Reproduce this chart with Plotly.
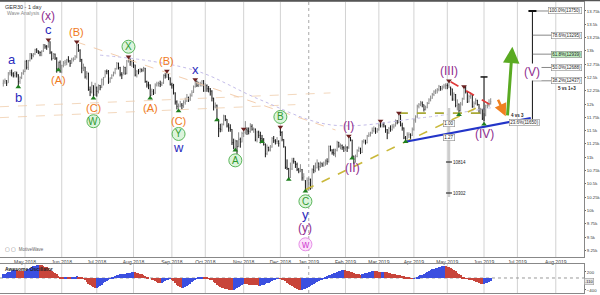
import pandas as pd
import plotly.graph_objects as go

# ---------------- trading calendar (GER30 daily bars) ----------------
holidays = ["2018-05-01", "2018-12-24", "2018-12-25", "2018-12-26", "2018-12-31",
            "2019-01-01", "2019-04-19", "2019-04-22", "2019-05-01"]
calendar = [d for d in pd.bdate_range("2018-04-12", "2019-09-30")
            if d.strftime("%Y-%m-%d") not in holidays]

month_ticks = ["2018-05", "2018-06", "2018-07", "2018-08", "2018-09", "2018-10", "2018-11",
               "2018-12", "2019-01", "2019-02", "2019-03", "2019-04", "2019-05", "2019-06",
               "2019-07", "2019-08"]

# ---------------- daily OHLC ----------------
opens = [
    12390, 12420, 12440, 12400, 12585, 12590, 12567, 12540, 12572, 12550, 12422, 12500, 12580,
    12612, 12802, 12690, 12820, 12948, 12912, 12943, 13023, 13001, 12978, 12970, 12996, 13115, 13078, 13077, 13170, 12976, 12855, 12939, 12863, 12666, 12783,
    12605, 12724, 12770, 12787, 12830, 12811, 12766, 12842, 12842, 12890, 13107, 13010, 12834, 12677, 12695, 12512, 12580, 12270, 12228, 12348, 12177,
    12306, 12238, 12349, 12317, 12465, 12496, 12610, 12609, 12417, 12492, 12541, 12595, 12662, 12765, 12686, 12561, 12548, 12689, 12579, 12809, 12860, 12798,
    12805, 12737, 12546, 12616, 12613, 12648, 12634, 12676, 12424, 12358, 12358, 12163, 12237, 12210, 12358, 12384, 12385, 12365, 12394, 12538, 12527, 12562, 12494,
    12364, 12346, 12210, 12040, 11956, 11960, 11986, 11970, 12032, 12055, 12124, 12096, 12157, 12219, 12326, 12431, 12350, 12374, 12385, 12435,
    12247, 12346, 12287, 12287, 12244, 12111, 11947, 11977, 11712, 11539, 11523, 11614, 11777, 11715, 11589, 11553, 11524, 11274, 11191, 11307, 11201, 11335, 11287,
    11447, 11468, 11519, 11495, 11484, 11579, 11527, 11529, 11325, 11472, 11412, 11353, 11341, 11244, 11066, 11183, 11138, 11192, 11354, 11310, 11298, 11299,
    11480, 11465, 11335, 11200, 10811, 10788, 10622, 10780, 10931, 10924, 10866, 10772, 10740, 10766, 10611, 10560, 10382,
    10559, 10580, 10416, 10767, 10747, 10804, 10893, 10822, 10888, 10856, 10892, 10931, 10919, 11205, 11136, 11090, 11071, 11130, 11282, 11210, 11218, 11181,
    11173, 11180, 11177, 11367, 11324, 11022, 10906, 11014, 11126, 11167, 11089, 11299, 11309, 11277, 11401, 11423, 11457, 11505, 11540, 11487,
    11515, 11602, 11593, 11620, 11588, 11518, 11458, 11543, 11524, 11572, 11587, 11686, 11657, 11788, 11603, 11550, 11364, 11346, 11419, 11428, 11409,
    11526, 11700, 11760, 11960, 11990, 12020, 11990, 11900, 11940, 12010, 12080, 12110, 12180, 12230, 12250, 12270, 12330, 12290, 12320, 12340,
    12350, 12345, 12300, 12286, 12093, 12180, 11974, 12000, 11877, 12000, 12100, 12310, 12220, 12041, 12143, 12168, 11952, 12011, 12071, 11994, 11837, 11902,
    11740, 11792, 11971, 11980, 12009,
]
highs = [
    12460, 12480, 12450, 12600, 12640, 12650, 12600, 12620, 12610, 12560, 12520, 12600, 12650,
    12820, 12830, 12830, 12960, 12950, 12960, 13040, 13050, 13010, 12990, 13010, 13130, 13120, 13110, 13210, 13180, 12990, 12960, 12950, 12880, 12800, 12820,
    12740, 12810, 12830, 12850, 12900, 12830, 12870, 12880, 12920, 13170, 13130, 13030, 12850, 12760, 12700, 12620, 12590, 12330, 12420, 12350, 12400,
    12330, 12370, 12360, 12480, 12510, 12640, 12650, 12640, 12500, 12560, 12610, 12680, 12790, 12780, 12700, 12600, 12720, 12700, 12830, 12890, 12870, 12830,
    12830, 12740, 12640, 12660, 12680, 12670, 12700, 12680, 12440, 12420, 12370, 12290, 12280, 12390, 12420, 12420, 12440, 12420, 12560, 12580, 12620, 12570, 12500,
    12400, 12380, 12220, 12070, 12010, 12060, 12020, 12070, 12120, 12190, 12140, 12200, 12260, 12350, 12460, 12440, 12420, 12420, 12450, 12450,
    12390, 12370, 12340, 12300, 12260, 12120, 12030, 11990, 11720, 11630, 11640, 11800, 11790, 11720, 11640, 11620, 11530, 11350, 11330, 11320, 11470, 11370, 11480,
    11530, 11680, 11560, 11560, 11640, 11620, 11560, 11540, 11500, 11500, 11480, 11420, 11360, 11260, 11240, 11200, 11230, 11380, 11400, 11340, 11380, 11320,
    11570, 11490, 11340, 11200, 10960, 10800, 10900, 10990, 10990, 10930, 10900, 10800, 10870, 10780, 10700, 10570, 10620,
    10620, 10600, 10790, 10850, 10900, 10960, 10900, 10920, 10900, 10920, 10960, 10980, 11220, 11220, 11150, 11160, 11160, 11310, 11290, 11260, 11240, 11210,
    11240, 11210, 11400, 11380, 11330, 11030, 11050, 11150, 11200, 11180, 11320, 11340, 11330, 11420, 11470, 11480, 11560, 11580, 11560, 11550,
    11640, 11680, 11650, 11660, 11600, 11530, 11570, 11600, 11620, 11630, 11710, 11700, 11830, 11800, 11650, 11560, 11400, 11470, 11470, 11450, 11560,
    11730, 11790, 11990, 12020, 12060, 12050, 11990, 11970, 12040, 12110, 12160, 12210, 12260, 12280, 12300, 12360, 12340, 12350, 12380, 12390,
    12390, 12440, 12330, 12290, 12220, 12190, 12090, 12010, 12040, 12120, 12330, 12340, 12230, 12180, 12220, 12180, 12050, 12110, 12080, 12000, 11930, 11910,
    11830, 11990, 12040, 12090, 12110,
]
lows = [
    12330, 12380, 12340, 12400, 12540, 12520, 12500, 12500, 12500, 12320, 12380, 12470, 12550,
    12600, 12650, 12640, 12800, 12840, 12880, 12920, 12960, 12940, 12900, 12900, 12980, 13040, 13020, 13060, 12940, 12820, 12850, 12830, 12590, 12640, 12590,
    12580, 12690, 12720, 12730, 12780, 12700, 12760, 12800, 12830, 12860, 12980, 12790, 12580, 12620, 12480, 12460, 12250, 12150, 12200, 12110, 12150,
    12140, 12200, 12260, 12300, 12350, 12500, 12560, 12380, 12400, 12470, 12520, 12560, 12650, 12650, 12520, 12470, 12560, 12550, 12560, 12780, 12720, 12700,
    12680, 12520, 12500, 12560, 12590, 12600, 12610, 12400, 12310, 12280, 12110, 12160, 12170, 12190, 12330, 12330, 12320, 12340, 12380, 12480, 12490, 12450, 12350,
    12290, 12180, 11990, 11900, 11870, 11940, 11900, 11930, 11990, 12040, 12040, 12060, 12140, 12210, 12310, 12320, 12320, 12330, 12330, 12230,
    12230, 12230, 12220, 12160, 12050, 11880, 11920, 11700, 11380, 11470, 11480, 11600, 11680, 11560, 11480, 11480, 11230, 11150, 11130, 11060, 11190, 11180, 11280,
    11380, 11430, 11420, 11430, 11460, 11500, 11460, 11300, 11280, 11360, 11260, 11290, 11220, 11000, 11040, 11110, 11110, 11180, 11270, 11240, 11250, 11200,
    11400, 11300, 11180, 10780, 10760, 10580, 10610, 10760, 10880, 10800, 10740, 10700, 10720, 10560, 10560, 10360, 10370,
    10380, 10390, 10410, 10700, 10720, 10790, 10750, 10800, 10820, 10820, 10840, 10860, 10900, 11110, 11050, 11030, 11000, 11110, 11180, 11150, 11140, 11100,
    11120, 11100, 11160, 11300, 10980, 10870, 10900, 11000, 11100, 11060, 11080, 11260, 11240, 11260, 11380, 11390, 11440, 11470, 11440, 11460,
    11500, 11560, 11560, 11560, 11460, 11340, 11440, 11480, 11500, 11540, 11580, 11620, 11640, 11580, 11500, 11340, 11290, 11330, 11360, 11330, 11400,
    11500, 11650, 11740, 11920, 11960, 11940, 11860, 11880, 11920, 12000, 12050, 12100, 12150, 12190, 12200, 12240, 12250, 12260, 12290, 12280,
    12280, 12300, 12160, 12060, 12060, 11940, 11880, 11800, 11860, 11970, 12080, 12200, 12020, 12030, 12100, 11930, 11930, 11990, 11970, 11820, 11810, 11700,
    11620, 11770, 11920, 11950, 11990,
]
closes = [
    12415, 12442, 12391, 12585, 12590, 12567, 12540, 12572, 12550, 12422, 12500, 12580, 12612,
    12802, 12690, 12820, 12948, 12912, 12943, 13023, 13001, 12978, 12970, 12996, 13115, 13078, 13077, 13170, 12976, 12855, 12939, 12863, 12666, 12783, 12605,
    12724, 12770, 12787, 12830, 12811, 12766, 12842, 12842, 12890, 13107, 13010, 12834, 12677, 12695, 12512, 12580, 12270, 12228, 12348, 12177, 12306,
    12238, 12349, 12317, 12465, 12496, 12610, 12609, 12417, 12492, 12541, 12595, 12662, 12765, 12686, 12561, 12548, 12689, 12579, 12809, 12860, 12798, 12805,
    12737, 12546, 12616, 12613, 12648, 12634, 12676, 12424, 12358, 12358, 12163, 12237, 12210, 12358, 12384, 12385, 12365, 12394, 12538, 12527, 12562, 12494, 12364,
    12346, 12210, 12040, 11956, 11960, 11986, 11970, 12032, 12055, 12124, 12096, 12157, 12219, 12326, 12431, 12350, 12374, 12385, 12435, 12247,
    12346, 12287, 12287, 12244, 12111, 11947, 11977, 11712, 11539, 11523, 11614, 11777, 11715, 11589, 11553, 11524, 11274, 11191, 11307, 11201, 11335, 11287, 11447,
    11468, 11519, 11495, 11484, 11579, 11527, 11529, 11325, 11472, 11412, 11353, 11341, 11244, 11066, 11183, 11138, 11192, 11354, 11310, 11298, 11299, 11257,
    11465, 11335, 11200, 10811, 10788, 10622, 10780, 10931, 10924, 10866, 10772, 10740, 10766, 10611, 10634, 10382, 10559,
    10580, 10416, 10767, 10747, 10804, 10893, 10822, 10888, 10856, 10892, 10931, 10919, 11205, 11136, 11090, 11071, 11130, 11282, 11210, 11218, 11181, 11173,
    11180, 11177, 11367, 11324, 11022, 10906, 11014, 11126, 11167, 11089, 11299, 11309, 11277, 11401, 11423, 11457, 11505, 11540, 11487, 11515,
    11602, 11593, 11620, 11588, 11518, 11458, 11543, 11524, 11572, 11587, 11686, 11657, 11788, 11603, 11550, 11364, 11346, 11419, 11428, 11409, 11526,
    11700, 11760, 11960, 11990, 12020, 11990, 11900, 11940, 12010, 12080, 12110, 12180, 12230, 12250, 12270, 12330, 12290, 12320, 12340, 12350,
    12345, 12412, 12286, 12093, 12180, 11974, 12060, 11877, 12000, 12100, 12310, 12238, 12041, 12143, 12168, 11952, 12011, 12071, 11994, 11837, 11902, 11727,
    11792, 11971, 11980, 12009, 12045,
]

ao_values = [
    120, 140, 165, 190, 210, 235, 255, 270,
    262, 250, 238, 230, 226, 232,
    260, 295, 330, 360, 385, 405, 420, 432,
    428, 418, 400, 380, 352, 318, 282, 245, 205, 165, 120, 80, 45, 15,
    5, 12, 20, 18, 10, 15, 28, 40, 52, 48, 35, 10,
    -30, -80, -130, -185, -230, -270, -305, -330,
    -320, -295, -260, -220, -175, -130, -85, -45, -5,
    25, 50, 72, 90, 105, 118, 126, 138, 150, 160, 172, 182, 190, 192,
    185, 172, 158, 140, 120, 98, 75, 50, 25, 0,
    -35, -70, -105, -135, -158, -170,
    -160, -140, -112, -80, -45, -10,
    -50, -110, -170, -225, -270, -310, -330,
    -322, -300, -270, -230, -185, -140, -95, -50, -10,
    15, 30, 38, 35, 28, 12, -10,
    -40, -80, -125, -175, -225, -270, -300, -325, -345, -360, -372, -385, -395, -400,
    -392, -370, -340, -300, -262, -230, -205,
    -210, -215, -222, -230, -236, -240, -244, -248, -252, -250,
    -240, -225, -205, -180, -155, -130, -105, -80, -55, -30,
    -20, -25, -35,
    -70, -110, -150, -195, -235, -270, -305, -335, -360, -385, -400,
    -395, -380, -360, -335, -305, -275, -245, -212, -180, -145, -110, -75, -40, -5,
    25, 55, 85, 110, 135, 158, 180, 200, 220, 238, 255, 270,
    262, 248, 230, 210, 190, 170, 150, 132, 118, 110,
    125, 142, 160, 178, 195, 210, 222, 230,
    226, 220, 214, 210, 212, 216, 208, 195, 178, 160,
    148, 135, 120, 108, 100, 90, 78, 60, 40, 25, 10, -5, -20,
    -15, 0, 25, 55, 85, 115, 145, 175, 205, 235, 260, 285, 305, 325, 345, 362, 378, 390, 398,
    395, 380, 360, 335, 300, 262, 220, 175, 130, 85, 40,
    10, -15, -30, -45, -50,
    -70, -95, -120, -145, -165, -185, -200,
    -190, -170, -150, -130, -110,
]

# swing-point markers (bar indices)
pivot_highs = [27, 44, 75, 98, 115, 144, 166, 207, 226, 237, 267, 276]
pivot_lows = [9, 33, 54, 88, 105, 128, 139, 155, 171, 181, 209, 241, 273, 288]

# Elliott wave labels: (text, bar index, side, degree)
wave_labels = [
    ("a", 5, "above", "minor"), ("b", 9, "below", "minor"),
    ("c", 27, "above", "minor"), ("(x)", 27, "above", "primary"),
    ("(A)", 33, "below", "minute"), ("(B)", 44, "above", "minute"),
    ("(C)", 54, "below", "minute"), ("W", 54, "below", "circle"),
    ("X", 75, "above", "circle"),
    ("(A)", 88, "below", "minute"), ("(B)", 98, "above", "minute"),
    ("(C)", 105, "below", "minute"), ("Y", 105, "below", "circle"), ("w", 105, "below", "minor"),
    ("x", 115, "above", "minor"),
    ("A", 139, "below", "circle"), ("B", 166, "above", "circle"),
    ("C", 181, "below", "circle"), ("y", 181, "below", "minor"),
    ("(y)", 181, "below", "primary"), ("w", 181, "below", "circle_p"),
    ("(I)", 207, "above", "primary"), ("(II)", 209, "below", "primary"),
    ("(III)", 267, "above", "primary"), ("(IV)", 288, "below", "primary"),
]

# drawn trend lines / projections (bar index, price)
olive_line_x, olive_line_y = [181, 283], [10390, 11920]
level_line_x, level_line_y = [237, 289], [11830, 11830]
blue_line_x, blue_line_y = [241, 316], [11290, 11740]
red_line_x, red_line_y = [268, 296], [12420, 11910]
peach_line_x, peach_line_y = [44, 199], [13167, 11513]
fan1_x, fan1_y = [-2, 196], [11950, 12210]
fan2_x, fan2_y = [-2, 175], [11745, 11990]
ma_x = [58, 90, 118, 154, 196, 250, 292]
ma_y = [12920, 12800, 12600, 12080, 11610, 11740, 11930]
orange_arrow = [296, 12110, 301, 11770]
green_arrow = [302, 11760, 305, 13080]
fib_bar, fib_base, fib_top = 317, 11626, 13750
fib_ratios = [1.0, 0.786, 0.618, 0.5, 0.382]
target_label = ("(V)", 317, 12600)
meas_bar, meas_top, meas_bottom = 267, 11926, 10253
meas_boxes = [("1.00", 11644), ("1.27", 11381)]
meas_ticks = [("10814", 10911), ("10302", 10328)]
t_bar, t_top, t_bottom = 288, 12510, 11680
note_43 = ("4 vs 3", 308, 11776)
note_43_box = ("23.6%(11650)", 312, 11663)
note_513 = ("5 vs 1+3", 338, 12302)

# ---------------- build ----------------
n = min(len(opens), len(highs), len(lows), len(closes))
bar_x = list(range(n))
tick_idx, tick_text, tick_year = [], [], []
for m in month_ticks:
    for i, d in enumerate(calendar):
        if d.strftime("%Y-%m") == m:
            tick_idx.append(i)
            tick_text.append(d.strftime("%b %Y"))
            tick_year.append(d.month == 1)
            break

FONT = "Liberation Sans, Arial, sans-serif"
fig = go.Figure()

def seg(xs, ys, color, width, dash="solid", opacity=1.0):
    fig.add_trace(go.Scatter(x=xs, y=ys, mode="lines", line=dict(color=color, width=width, dash=dash),
                             opacity=opacity, hoverinfo="skip", showlegend=False, xaxis="x", yaxis="y"))

# faint background guide lines
seg(fan1_x, fan1_y, "#f1cfae", 1, "dash", 0.8)
seg(fan2_x, fan2_y, "#f1cfae", 1, "dash", 0.8)
seg(peach_line_x, peach_line_y, "#f3c9a6", 1, "dash", 0.9)
fig.add_trace(go.Scatter(x=ma_x, y=ma_y, mode="lines", line=dict(color="#c4bde9", width=1, dash="dot", shape="spline"),
                         hoverinfo="skip", showlegend=False))

# price bars
fig.add_trace(go.Ohlc(x=bar_x, open=opens[:n], high=highs[:n], low=lows[:n], close=closes[:n],
                      increasing=dict(line=dict(color="#8a8a8a", width=1)),
                      decreasing=dict(line=dict(color="#151515", width=1)),
                      tickwidth=0.3, hoverinfo="skip", showlegend=False, xaxis="x", yaxis="y"))

# measurement line (grey) and T line
seg([meas_bar, meas_bar], [meas_top, meas_bottom], "#cdcdcd", 2.5)
seg([t_bar, t_bar], [t_top, t_bottom], "#111111", 1)

# trend lines
seg(olive_line_x, olive_line_y, "#c9b83a", 1.6, "dash")
seg(level_line_x, level_line_y, "#a9a935", 1.6, "dash")
seg(blue_line_x, blue_line_y, "#2335c8", 2)
seg(red_line_x, red_line_y, "#e03a3a", 1.6, "dash")

# fibonacci projection
seg([fib_bar, fib_bar], [fib_base, fib_top], "#111111", 1)
fib_levels = [fib_base + r * (fib_top - fib_base) for r in fib_ratios]
for lv in fib_levels:
    seg([fib_bar, 331], [lv, lv], "#555555", 0.7)

# swing markers
fig.add_trace(go.Scatter(x=pivot_highs, y=[highs[i] for i in pivot_highs], mode="markers",
                         marker=dict(symbol="triangle-down", size=5, color="#6b2020"),
                         hoverinfo="skip", showlegend=False))
fig.add_trace(go.Scatter(x=pivot_lows, y=[lows[i] for i in pivot_lows], mode="markers",
                         marker=dict(symbol="triangle-up", size=5, color="#1f7f1f"),
                         hoverinfo="skip", showlegend=False))

# awesome oscillator
ao = ao_values[:n]
ao_colors = ["#3b4fe0" if (i == 0 or ao[i] >= ao[i - 1]) else "#c8443a" for i in range(len(ao))]
fig.add_trace(go.Bar(x=list(range(len(ao))), y=ao, marker=dict(color=ao_colors, line=dict(width=0)),
                     width=0.72, hoverinfo="skip", showlegend=False, xaxis="x2", yaxis="y2"))

shapes, annotations = [], []

# month grid lines
for ti, yr in zip(tick_idx, tick_year):
    for yref in ("y domain", "y2 domain"):
        shapes.append(dict(type="line", xref="x", yref=yref, x0=ti, x1=ti, y0=0, y1=1, layer="below",
                           line=dict(color="#a8a8a8" if yr else "#d2d2d2", width=1, dash="dot" if yr else "solid")))
shapes.append(dict(type="line", xref="x2", yref="y2", x0=-2, x1=349, y0=0, y1=0, layer="below",
                   line=dict(color="#999999", width=1, dash="dot")))

def tcap(xc, yv, half=3.5, w=1.5):
    shapes.append(dict(type="line", xref="x", yref="y", xsizemode="pixel", xanchor=xc,
                       x0=-half, x1=half, y0=yv, y1=yv, line=dict(color="#111111", width=w)))

tcap(fib_bar, fib_top, 4, 2)
tcap(fib_bar, fib_base, 4, 1.5)
tcap(t_bar, t_top, 3.5, 1.5)
for _, yv in meas_ticks:
    tcap(meas_bar, yv, 3, 1)

# wave labels
styles = {
    "minor": dict(color="#2b2bbd", size=13),
    "minute": dict(color="#f07a1c", size=11),
    "primary": dict(color="#8f2d8f", size=12),
    "circle": dict(color="#2f9b2f", size=10, fill="#dcf4dc", edge="#5ab65a"),
    "circle_p": dict(color="#d040d0", size=10, fill="#fce0fc", edge="#e690e6"),
}
offs_above = [10, 24, 38]
offs_below = [10, 23, 37, 53]
seen = {}
for text, bi, side, kind in wave_labels:
    lvl = seen.get((bi, side), 0)
    seen[(bi, side)] = lvl + 1
    base = highs[bi] if side == "above" else lows[bi]
    off = offs_above[lvl] if side == "above" else -offs_below[lvl]
    st = styles[kind]
    if kind.startswith("circle"):
        shapes.append(dict(type="circle", xref="x", yref="y", xsizemode="pixel", ysizemode="pixel",
                           xanchor=bi, yanchor=base, x0=-6.5, x1=6.5, y0=off - 6.5, y1=off + 6.5,
                           fillcolor=st["fill"], line=dict(color=st["edge"], width=1)))
    annotations.append(dict(x=bi, y=base, yshift=off, text=text, showarrow=False, xref="x", yref="y",
                            font=dict(family=FONT, size=st["size"], color=st["color"])))

# target label
annotations.append(dict(x=target_label[1], y=target_label[2], text=target_label[0], showarrow=False,
                        xref="x", yref="y", bgcolor="white",
                        font=dict(family=FONT, size=12, color="#8f2d8f")))

# arrows
annotations.append(dict(x=orange_arrow[2], y=orange_arrow[3], ax=orange_arrow[0], ay=orange_arrow[1],
                        axref="x", ayref="y", xref="x", yref="y", text="", showarrow=True,
                        arrowhead=2, arrowsize=1, arrowwidth=2.5, arrowcolor="#f08020"))
annotations.append(dict(x=green_arrow[2], y=green_arrow[3], ax=green_arrow[0], ay=green_arrow[1],
                        axref="x", ayref="y", xref="x", yref="y", text="", showarrow=True,
                        arrowhead=2, arrowsize=1.1, arrowwidth=3, arrowcolor="#5aaa22"))

# fib labels
small = dict(family=FONT, size=4.5, color="#222222")
for r, lv in zip(fib_ratios, fib_levels):
    annotations.append(dict(x=346.6, y=lv, xanchor="right", text=f"{r*100:.1f}%({lv:.0f})", showarrow=False,
                            xref="x", yref="y", font=small, bgcolor="#bfeebf" if r == 0.618 else "white",
                            bordercolor="#8a8a8a", borderwidth=0.6, borderpad=0.6))
annotations.append(dict(x=note_513[1], y=note_513[2], text="<b>" + note_513[0] + "</b>", showarrow=False,
                        xref="x", yref="y", font=small))
annotations.append(dict(x=note_43[1], y=note_43[2], text="<b>" + note_43[0] + "</b>", showarrow=False,
                        xref="x", yref="y", font=small))
annotations.append(dict(x=note_43_box[1], y=note_43_box[2], text=note_43_box[0], showarrow=False,
                        xref="x", yref="y", font=small, bgcolor="white",
                        bordercolor="#8a8a8a", borderwidth=0.6, borderpad=0.6))
for txt, yv in meas_boxes:
    annotations.append(dict(x=meas_bar, y=yv, text=txt, showarrow=False, xref="x", yref="y", font=small,
                            bgcolor="white", bordercolor="#8a8a8a", borderwidth=0.6, borderpad=0.6))
for txt, yv in meas_ticks:
    annotations.append(dict(x=meas_bar + 1.5, y=yv, xanchor="left", text=txt, showarrow=False,
                            xref="x", yref="y", font=small))

# axis value box (oscillator)
annotations.append(dict(x=1.0, y=ao[-1], xref="paper", yref="y2", xanchor="left", text=f"{ao[-1]}",
                        showarrow=False, font=dict(family=FONT, size=4, color="#222222"),
                        bgcolor="#e6e6e6", bordercolor="#999", borderwidth=0.6, borderpad=0.3))

# titles / captions
annotations += [
    dict(x=0.005, y=0.999, xref="paper", yref="paper", xanchor="left", yanchor="top", showarrow=False,
         text="GER30 - 1 day", font=dict(family=FONT, size=5.5, color="#333333")),
    dict(x=0.008, y=0.978, xref="paper", yref="paper", xanchor="left", yanchor="top", showarrow=False,
         text="Wave Analysis", font=dict(family=FONT, size=5, color="#888888")),
    dict(x=0.005, y=0.135, xref="paper", yref="paper", xanchor="left", yanchor="bottom", showarrow=False,
         text="▢ ▢  MotiveWave", font=dict(family=FONT, size=4.5, color="#666666")),
    dict(x=0.005, y=0.098, xref="paper", yref="paper", xanchor="left", yanchor="top", showarrow=False,
         text="<b>Awesome Oscillator</b>", font=dict(family=FONT, size=5, color="#222222")),
]

# top window border
shapes.append(dict(type="line", xref="paper", yref="paper", x0=0, x1=1.03, y0=1.006, y1=1.006,
                   line=dict(color="#555555", width=2)))

PRICE_DOM = [0.1237, 1.0]
AO_DOM = [0.0, 0.0997]
XR = [-1.98, 347.9]

fig.update_layout(
    width=600, height=295, margin=dict(l=0, r=16, t=2, b=2),
    paper_bgcolor="white", plot_bgcolor="white", hovermode=False, showlegend=False,
    bargap=0,
    shapes=shapes, annotations=annotations,
    xaxis=dict(domain=[0, 1], range=XR, anchor="y", tickvals=tick_idx, ticktext=tick_text,
               tickfont=dict(family=FONT, size=5, color="#444444"), ticks="", ticklen=0,
               showgrid=False, zeroline=False, showline=True, linecolor="#888888", linewidth=1,
               mirror=True, rangeslider=dict(visible=False), automargin=False),
    yaxis=dict(domain=PRICE_DOM, range=[9125, 13919], side="right", tick0=9250, dtick=250,
               tickfont=dict(family=FONT, size=4.3, color="#333333"), ticks="outside", ticklen=1,
               tickcolor="#666666", showgrid=False, zeroline=False, showline=True, linecolor="#888888",
               linewidth=1, mirror=True, automargin=False),
    xaxis2=dict(domain=[0, 1], range=XR, anchor="y2", matches="x", showticklabels=False, ticks="",
                showgrid=False, zeroline=False, showline=True, linecolor="#888888", linewidth=1, mirror=True,
                automargin=False),
    yaxis2=dict(domain=AO_DOM, range=[-500, 467], side="right", tickvals=[200, -400],
                tickfont=dict(family=FONT, size=4.3, color="#333333"), ticks="outside", ticklen=1,
                tickcolor="#666666", showgrid=False, zeroline=False, showline=True, linecolor="#888888",
                linewidth=1, mirror=True, anchor="x2", automargin=False),
)

fig.write_html("out.html")
